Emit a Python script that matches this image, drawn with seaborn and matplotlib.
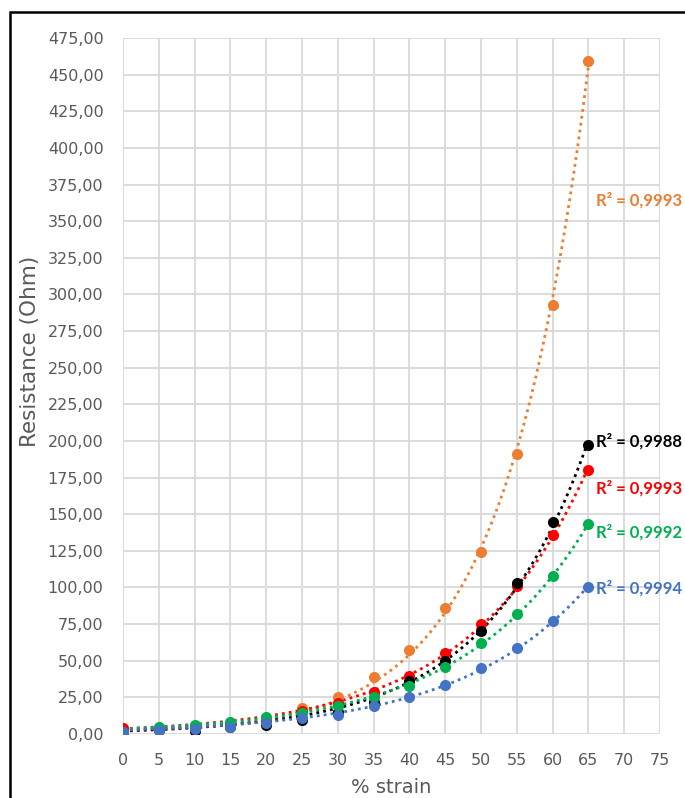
import numpy as np
import pandas as pd
import matplotlib
matplotlib.use("Agg")
import matplotlib.pyplot as plt
from matplotlib.ticker import FuncFormatter, MultipleLocator
from matplotlib.patches import Rectangle
import seaborn as sns

# data
strain = [0, 5, 10, 15, 20, 25, 30, 35, 40, 45, 50, 55, 60, 65]
orange = [1.5, 3.5, 5, 7, 10, 18, 25, 39, 57, 86, 124, 191, 293, 459]
red = [4, 4, 5, 6.5, 9, 16, 21, 29, 39.5, 55, 75, 101, 136, 180]
black = [1, 3, 2, 4.5, 6, 9.5, 15, 22, 36, 50, 70, 103, 145, 197]
green = [1.5, 5, 6, 8.4, 11.4, 14.5, 19, 25, 33, 46, 62, 82, 108, 143]
blue = [1.5, 3, 3.4, 5, 7.7, 10.7, 13, 19, 25, 33.5, 45, 59, 77, 100]
r2_labels = ["R² = 0,9993", "R² = 0,9993", "R² = 0,9988", "R² = 0,9992", "R² = 0,9994"]
label_y = [364, 168, 200, 138, 99.5]

series = [orange, red, black, green, blue]
colors = ["#ED7D31", "#FF0000", "#000000", "#00B050", "#4472C4"]

sns.set_style("whitegrid", {"grid.color": "#D9D9D9"})
plt.rcParams['font.family'] = ['DejaVu Sans']

fig = plt.figure(figsize=(6.85, 7.98), dpi=100)
ax = fig.add_axes([123/685, 1-734/798, (660-123)/685, (734-38)/798])

xs = np.linspace(0, 65, 200)
for vals, col, lab, ly in zip(series, colors, r2_labels, label_y):
    # exponential trendline, dotted (weighted so the big values drive the fit)
    vals = np.asarray(vals, dtype=float)
    b, a = np.polyfit(strain, np.log(vals), 1, w=vals)
    fit = pd.DataFrame({"x": xs, "y": np.exp(a + b * xs)})
    sns.lineplot(data=fit, x="x", y="y", color=col, lw=2, ax=ax,
                 linestyle=(0, (1, 1.5)))
    sns.scatterplot(x=strain, y=vals, color=col, s=64, edgecolor=col,
                    linewidth=0, ax=ax, zorder=3)
    ax.text(66, ly, lab, color=col, fontsize=12, fontweight="bold",
            family="Lato", va="center", ha="left")

ax.set_xlim(0, 75)
ax.set_ylim(0, 475)
ax.xaxis.set_major_locator(MultipleLocator(5))
ax.yaxis.set_major_locator(MultipleLocator(25))
ax.yaxis.set_major_formatter(FuncFormatter(lambda v, p: f"{v:.2f}".replace(".", ",")))
ax.tick_params(axis="both", labelsize=11.5, labelcolor="#595959", pad=14, length=0)
for s in ax.spines.values():
    s.set_visible(False)
ax.grid(True, color="#D9D9D9", lw=1.3)
ax.set_xlabel("% strain", fontsize=14, color="#595959", labelpad=7)
ax.set_ylabel("Resistance (Ohm)", fontsize=15.5, color="#595959")
ax.yaxis.set_label_coords(-0.154, 0.55)

# outer frame (only top and left visible in the crop)
fig.add_artist(Rectangle((10/685, -0.05), 1.2, 1 - 12/798 + 0.05, fill=False,
                         lw=1.8, edgecolor="black", transform=fig.transFigure))

plt.savefig("out.png", dpi=100)
plt.close()
